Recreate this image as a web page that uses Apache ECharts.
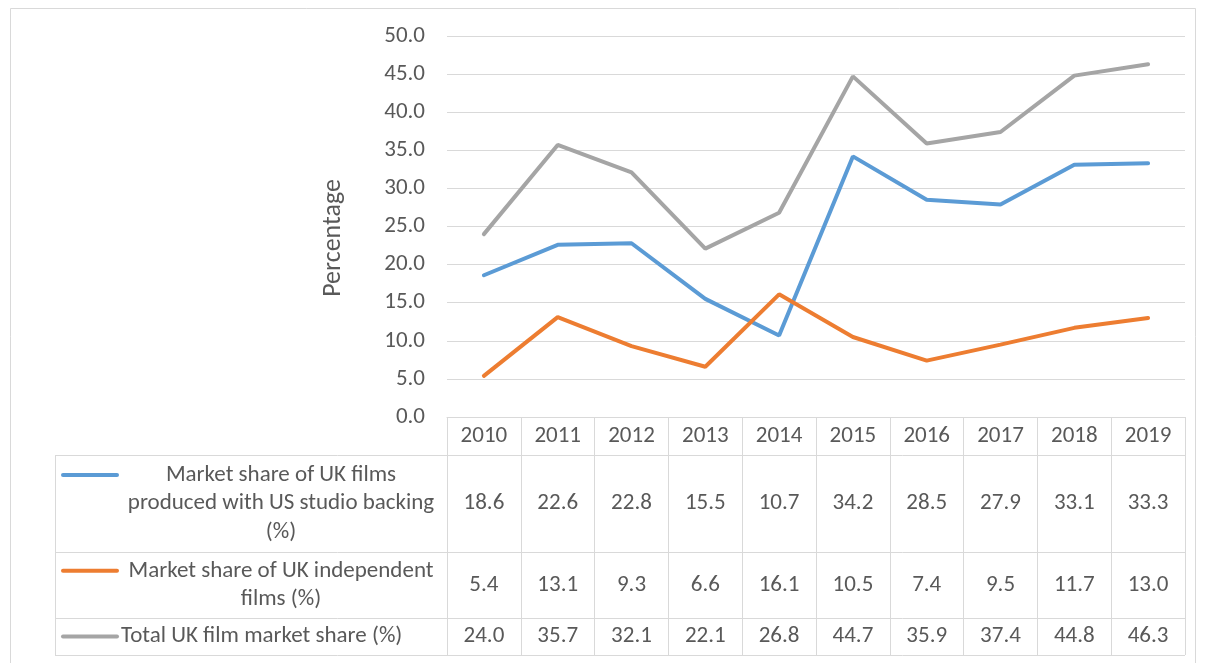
<!DOCTYPE html>
<html>
<head>
<meta charset="utf-8">
<script src="https://cdn.jsdelivr.net/npm/echarts@6/dist/echarts.min.js"></script>
<style>
  html, body { margin: 0; padding: 0; background: #fff; }
  #main { width: 1206px; height: 663px; }
</style>
</head>
<body>
<div id="main"></div>
<script>
// 数据
var years = ['2010', '2011', '2012', '2013', '2014', '2015', '2016', '2017', '2018', '2019'];
var usBacked = [18.6, 22.6, 22.8, 15.5, 10.7, 34.2, 28.5, 27.9, 33.1, 33.3];
var independent = [5.4, 13.1, 9.3, 6.6, 16.1, 10.5, 7.4, 9.5, 11.7, 13.0];
var totalShare = [24.0, 35.7, 32.1, 22.1, 26.8, 44.7, 35.9, 37.4, 44.8, 46.3];
var yTicks = [0, 5, 10, 15, 20, 25, 30, 35, 40, 45, 50];

var seriesNames = [
    'Market share of UK films produced with US studio backing (%)',
    'Market share of UK independent films (%)',
    'Total UK film market share (%)'
];
var legendLines = [
    ['Market share of UK films', 'produced with US studio backing', '(%)'],
    ['Market share of UK independent', 'films (%)'],
    ['Total UK film market share (%)']
];
var colors = ['#5b9bd5', '#ed7d31', '#a5a5a5'];
var rows = [usBacked, independent, totalShare];

var font = 'Carlito, "Liberation Sans Narrow", Lato, sans-serif';
var textColor = '#595959';
var lineColor = '#d9d9d9';
var fs = 23;

// 表格布局
var tableLeft = 55, tableRight = 1185;
var rowBounds = [455, 552, 618, 655]; // 每行下边线
var rowTop = [417, 455, 552, 618];

var myChart = echarts.init(document.getElementById('main'));

var option = {
    animation: false,
    backgroundColor: '#fff',
    grid: { left: 447, right: 21, top: 36, bottom: 246 },
    xAxis: {
        type: 'category',
        data: years,
        boundaryGap: true,
        axisLine: { show: true, lineStyle: { color: lineColor, width: 1 } },
        axisTick: { show: true, interval: 0, length: 238, lineStyle: { color: lineColor, width: 1 } },
        axisLabel: { interval: 0, margin: 8, color: textColor, fontSize: fs, fontFamily: font }
    },
    yAxis: {
        type: 'value',
        min: yTicks[0],
        max: yTicks[yTicks.length - 1],
        interval: 5,
        axisLine: { show: false },
        axisTick: { show: false },
        axisLabel: {
            color: textColor, fontSize: fs, fontFamily: font, margin: 22,
            formatter: function (v) { return v.toFixed(1); }
        },
        splitLine: { lineStyle: { color: lineColor, width: 1 } }
    },
    series: rows.map(function (d, i) {
        return {
            name: seriesNames[i],
            type: 'line',
            data: d,
            symbol: 'none',
            lineStyle: { color: colors[i], width: 4, cap: 'round' },
            itemStyle: { color: colors[i] },
            z: 3 + i
        };
    })
};
myChart.setOption(option);

// 表格：用坐标轴换算出的位置画数值和图例
function buildTable() {
    var els = [];
    // 外框
    els.push({ type: 'rect', shape: { x: 10.5, y: 8.5, width: 1185, height: 700 },
        style: { fill: 'none', stroke: lineColor, lineWidth: 1 }, silent: true });
    // 纵轴标题
    els.push({ type: 'text', x: 333, y: 238, rotation: Math.PI / 2,
        style: { text: 'Percentage', fill: textColor, font: '26px ' + font, align: 'center', verticalAlign: 'middle' } });
    // 横线
    rowBounds.forEach(function (y) {
        els.push({ type: 'line', shape: { x1: tableLeft, y1: y + 0.5, x2: tableRight, y2: y + 0.5 },
            style: { stroke: lineColor, lineWidth: 1 }, silent: true });
    });
    // 左边线
    els.push({ type: 'line', shape: { x1: tableLeft + 0.5, y1: rowTop[1], x2: tableLeft + 0.5, y2: rowBounds[3] },
        style: { stroke: lineColor, lineWidth: 1 }, silent: true });

    rows.forEach(function (d, r) {
        var top = rowTop[r + 1], bottom = rowBounds[r + 1];
        var mid = (top + bottom) / 2;
        d.forEach(function (v, k) {
            var x = myChart.convertToPixel({ xAxisIndex: 0 }, years[k]);
            els.push({ type: 'text', x: x, y: mid,
                style: { text: v.toFixed(1), fill: textColor, font: fs + 'px ' + font, align: 'center', verticalAlign: 'middle' } });
        });
        // 图例
        var lines = legendLines[r];
        var lh = 28.5;
        var firstY = mid - (lines.length - 1) * lh / 2;
        els.push({ type: 'line', shape: { x1: 63, y1: firstY, x2: 117, y2: firstY },
            style: { stroke: colors[r], lineWidth: 4, lineCap: 'round' }, silent: true });
        lines.forEach(function (t, j) {
            var single = lines.length === 1;
            els.push({ type: 'text', x: single ? 121 : 281, y: firstY + j * lh,
                style: { text: t, fill: textColor, font: fs + 'px ' + font, align: single ? 'left' : 'center', verticalAlign: 'middle' } });
        });
    });
    return els;
}
myChart.setOption({ graphic: buildTable() });
</script>
</body>
</html>
